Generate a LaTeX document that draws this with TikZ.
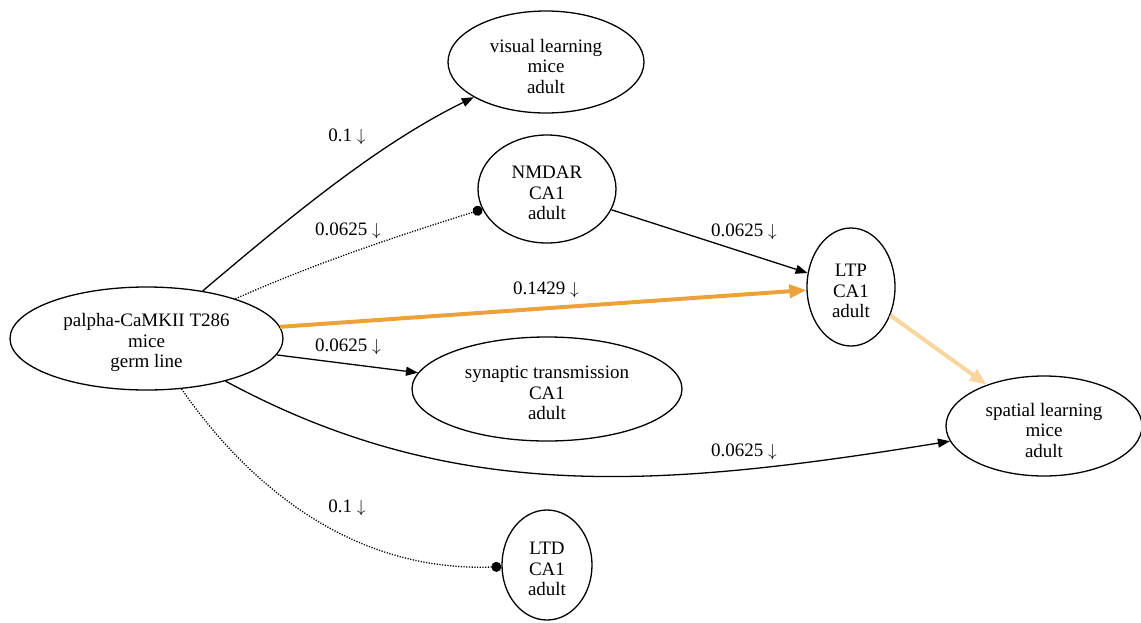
\documentclass[tikz,border=0pt]{standalone}
\usepackage{fontspec}
\setmainfont{Liberation Serif}
\usetikzlibrary{arrows.meta,shapes.geometric}
\definecolor{strongor}{RGB}{237,161,59}
\definecolor{lightor}{RGB}{248,214,158}
\tikzset{
  ell/.style={draw, ellipse, inner sep=0pt, line width=1.3pt},
  etext/.style={align=center, inner sep=0pt, font=\fontsize{19}{20.5}\selectfont},
  lab/.style={font=\fontsize{19}{21}\selectfont, inner sep=0pt},
  tip/.style={-{Triangle[length=12pt,width=9pt]}},
  bigtip/.style={-{Triangle[length=17pt,width=13pt]}},
  dottip/.style={-{Circle[length=10pt]}, dash pattern=on 1.2pt off 1.5pt},
  edge/.style={line width=1.3pt},
}
\newcommand\enode[6]{%
  \node[ell, minimum width=#4, minimum height=#5] (#1) at (#2,#3) {};
  \node[etext] (#1-t) at ([yshift=-4pt]#1.center) {#6};}
\begin{document}
\begin{tikzpicture}[x=1pt,y=-1pt]
\useasboundingbox (0,0) rectangle (1141,622);
\enode{v}{546}{62}{196pt}{102pt}{visual learning\\mice\\adult}
\enode{n}{547}{189}{138pt}{108pt}{NMDAR\\CA1\\adult}
\enode{ltp}{851}{287}{88pt}{118pt}{LTP\\CA1\\adult}
\enode{p}{146.5}{338.5}{273pt}{103pt}{palpha-CaMKII T286\\mice\\germ line}
\enode{s}{547}{389}{270pt}{104pt}{synaptic transmission\\CA1\\adult}
\enode{sp}{1044}{426}{196pt}{100pt}{spatial learning\\mice\\adult}
\enode{ltd}{547}{565}{90pt}{110pt}{LTD\\CA1\\adult}

\draw[edge,tip] (p) .. controls (290,217) and (378,144) .. (v);
\draw[edge,dottip] (p) .. controls (320,261) and (410,232) .. (n);
\draw[edge,tip] (n) -- (ltp);
\draw[strongor, line width=4pt, bigtip] (p.5) -- (ltp);
\draw[edge,tip] (p) -- (s);
\draw[edge,tip] (p) .. controls (455,505) and (660,488) .. (sp);
\draw[edge,dottip] (p) .. controls (251,489) and (355,572) .. (ltd);
\draw[lightor, line width=4pt, bigtip] (ltp) -- (sp);

\node[lab] (l1) at (347,137) {0.1 $\downarrow$};
\node[lab] (l2) at (348,231) {0.0625 $\downarrow$};
\node[lab] (l3) at (744,232) {0.0625 $\downarrow$};
\node[lab] (l4) at (546,290) {0.1429 $\downarrow$};
\node[lab] (l5) at (348,347) {0.0625 $\downarrow$};
\node[lab] (l6) at (744,452) {0.0625 $\downarrow$};
\node[lab] (l7) at (347,508) {0.1 $\downarrow$};
\end{tikzpicture}
\end{document}
